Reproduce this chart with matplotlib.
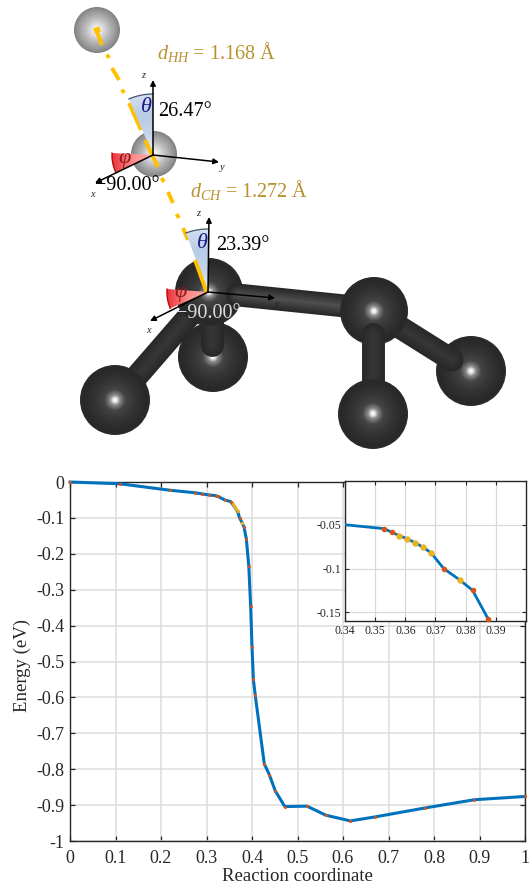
import numpy as np
import matplotlib
matplotlib.use("Agg")
import matplotlib.pyplot as plt
from matplotlib.patches import Circle, Polygon

plt.rcParams['font.family'] = ['Liberation Serif', 'DejaVu Serif']
plt.rcParams['mathtext.fontset'] = 'custom'
plt.rcParams['mathtext.rm'] = 'Liberation Serif'
plt.rcParams['mathtext.it'] = 'Liberation Serif:italic'
plt.rcParams['axes.unicode_minus'] = False

# energy profile
coord_main = [0, 0.11, 0.22, 0.275, 0.29, 0.305, 0.32, 0.325, 0.34, 0.353, 0.3555, 0.3685,
              0.3727, 0.378, 0.3823, 0.3875, 0.393, 0.397, 0.4, 0.403, 0.407, 0.427, 0.438,
              0.451, 0.472, 0.521, 0.562, 0.616, 0.67, 0.78, 0.889, 1]
energy_main = [0, -0.005, -0.023, -0.03, -0.033, -0.036, -0.038, -0.04, -0.05, -0.0545, -0.0585, -0.082,
               -0.1, -0.113, -0.125, -0.158, -0.235, -0.345, -0.46, -0.55, -0.593, -0.785, -0.815,
               -0.86, -0.904, -0.903, -0.928, -0.944, -0.933, -0.908, -0.885, -0.876]
coord_zoom = [0.34, 0.353, 0.3555, 0.358, 0.3606, 0.3632, 0.3658, 0.3685, 0.3727, 0.378, 0.3823, 0.3875, 0.393]
energy_zoom = [-0.05, -0.0545, -0.0585, -0.0625, -0.066, -0.0705, -0.0755, -0.082, -0.1, -0.113, -0.125, -0.158, -0.235]
coord_orange = [0.353, 0.3555, 0.3727, 0.3823, 0.3875]
energy_orange = [-0.0545, -0.0585, -0.1, -0.125, -0.158]
coord_yellow = [0.358, 0.3606, 0.3632, 0.3658, 0.3685, 0.378]
energy_yellow = [-0.0625, -0.066, -0.0705, -0.0755, -0.082, -0.113]

main_xticks = [0, 0.1, 0.2, 0.3, 0.4, 0.5, 0.6, 0.7, 0.8, 0.9, 1]
main_xlabels = ['0', '0.1', '0.2', '0.3', '0.4', '0.5', '0.6', '0.7', '0.8', '0.9', '1']
main_yticks = [0, -0.1, -0.2, -0.3, -0.4, -0.5, -0.6, -0.7, -0.8, -0.9, -1]
main_ylabels = ['0', '-0.1', '-0.2', '-0.3', '-0.4', '-0.5', '-0.6', '-0.7', '-0.8', '-0.9', '-1']
zoom_xticks = [0.34, 0.35, 0.36, 0.37, 0.38, 0.39]
zoom_xlabels = ['0.34', '0.35', '0.36', '0.37', '0.38', '0.39']
zoom_yticks = [-0.05, -0.1, -0.15]
zoom_ylabels = ['-0.05', '-0.1', '-0.15']

W, H = 530, 888
DARK = '#262626'


def sphere(ax, x, y, r, stops, vals, z):
    yy, xx = np.mgrid[-1:1:140j, -1:1:140j]
    im = ax.imshow(np.interp(np.hypot(xx, yy), stops, vals), cmap='gray', vmin=0, vmax=1,
                   extent=(x - r, x + r, y + r, y - r), aspect='auto', zorder=z, interpolation='bilinear')
    im.set_clip_path(Circle((x, y), r, transform=ax.transData))


def carbon(ax, x, y, r, z):
    sphere(ax, x, y, r, [0, 0.06, 0.14, 0.3, 0.55, 0.9, 1], [1, 0.92, 0.55, 0.27, 0.21, 0.16, 0.17], z)


def hydrogen(ax, x, y, r, z):
    sphere(ax, x, y, r, [0, 0.15, 0.5, 0.9, 1], [1, 0.93, 0.74, 0.56, 0.5], z)


def bond(ax, p, q, z, centre=0.21):
    xs, ys = [p[0], q[0]], [p[1], q[1]]
    for lw, g in zip(np.linspace(16.5, 2, 8), np.linspace(0.155, centre, 8)):
        ax.plot(xs, ys, color=(g, g, g), lw=lw, solid_capstyle='round', zorder=z)


def wedge_image(ax, pts, colors, horizontal, z):
    pts = np.array(pts)
    x0, y0 = pts.min(axis=0)
    x1, y1 = pts.max(axis=0)
    c = np.array([matplotlib.colors.to_rgb(k) for k in colors])
    t = np.linspace(0, 1, 60)
    row = np.stack([np.interp(t, np.linspace(0, 1, len(c)), c[:, i]) for i in range(3)], axis=1)
    img = row[None, :, :] if horizontal else row[:, None, :]
    im = ax.imshow(img, extent=(x0, x1, y1, y0), aspect='auto', zorder=z, interpolation='bilinear')
    im.set_clip_path(Polygon(pts, closed=True, transform=ax.transData))


def angle_marks(ax, org, theta_end, phi_start, phi_end, rad, z):
    # theta wedge between z axis and the bond direction
    a0 = np.arctan2(theta_end[0] - org[0], org[1] - theta_end[1])
    a = np.linspace(a0, 0, 20)
    arc = np.column_stack([org[0] + rad * np.sin(a), org[1] - rad * np.cos(a)])
    wedge_image(ax, [org] + arc.tolist(), ['#d5e0f0', '#b9cce6', '#c4d4ea', '#eef2f9'], False, z)
    ax.plot(arc[:, 0], arc[:, 1], color='#44546a', lw=0.9, zorder=z + 1)
    # phi wedge on the left, bulging away from the origin
    b0 = np.arctan2(phi_start[1] - org[1], phi_start[0] - org[0])
    b1 = np.arctan2(phi_end[1] - org[1], phi_end[0] - org[0])
    if b0 < 0:
        b0 += 2 * np.pi
    b = np.linspace(b0, b1, 20)
    r = np.hypot(phi_start[0] - org[0], phi_start[1] - org[1])
    arc2 = np.column_stack([org[0] + r * np.cos(b), org[1] + r * np.sin(b)])
    wedge_image(ax, [org] + arc2.tolist(), ['#e8343c', '#ff8a8a', '#ffb0b0'], True, z)
    ax.plot(arc2[:, 0], arc2[:, 1], color='#c00000', lw=0.9, zorder=z + 1)


def frame_arrows(ax, org, tips, labels, z):
    for tip, (lx, ly, s) in zip(tips, labels):
        ax.annotate('', xy=tip, xytext=org, zorder=z,
                    arrowprops=dict(arrowstyle='-|>', color='black', lw=1.1, mutation_scale=8,
                                    shrinkA=0, shrinkB=0))
        ax.text(lx, ly, s, fontsize=7.5, style='italic', color='#222222', ha='center', va='center', zorder=z)


fig = plt.figure(figsize=(W / 100, H / 100), dpi=100)

# molecule drawn in picture pixels
mol = fig.add_axes([0, 0, 1, 1])
mol.axis('off')

carbon(mol, 471, 371, 35, 2)
bond(mol, (374, 311), (452, 360), 3)
carbon(mol, 213, 357, 35, 2)
bond(mol, (212, 310), (212, 345), 3)
bond(mol, (210, 292), (125, 390), 3)
carbon(mol, 115, 400, 35, 4)
carbon(mol, 209, 292, 34, 5)
bond(mol, (238, 295), (345, 306), 6, centre=0.3)
carbon(mol, 374, 311, 34, 7)
bond(mol, (373, 334), (373, 395), 8)
carbon(mol, 373, 414, 35, 9)

hydrogen(mol, 97, 30, 23, 3)
hydrogen(mol, 154, 154, 23, 3)

# dash-dot bond guide
guide = [((97, 32), (102, 45)), ((107, 54.5), (109, 58)), ((112, 68), (119, 80)), ((122, 89.5), (124, 93)),
         ((129, 103), (141, 130)), ((161.5, 178), (164, 182)), ((168, 192), (173, 203)),
         ((176.5, 214), (179, 218)), ((183, 228), (188, 240))]
for p, q in guide:
    mol.plot([p[0], q[0]], [p[1], q[1]], color='#ffc000', lw=2.8, solid_capstyle='butt', zorder=10)
mol.plot([94, 100], [31, 29], color='#ffc000', lw=4, solid_capstyle='butt', zorder=10)

angle_marks(mol, (153, 155), (129, 99), (112, 153), (121, 170), 61, 11)
angle_marks(mol, (208, 292), (186, 233), (167, 289), (178, 305), 63, 11)

# parts of the guide that sit on top of the wedges
top_guide = [((145, 140), (158, 167)), ((195, 260), (207, 293))]
for p, q in top_guide:
    mol.plot([p[0], q[0]], [p[1], q[1]], color='#ffc000', lw=2.8, solid_capstyle='butt', zorder=12)

frame_arrows(mol, (153, 155), [(153, 80), (219, 162), (95, 183)],
             [(143, 76, 'z'), (222, 167, 'y'), (92, 194, 'x')], 13)
frame_arrows(mol, (208, 292), [(209, 217), (275, 298), (150, 321)],
             [(198, 213, 'z'), (277, 304, 'y'), (148, 330, 'x')], 13)

GOLD = '#b8922e'
mol.text(157, 52, r'$d_{HH}$ = 1.168 Å', color=GOLD, fontsize=14.5, va='center', zorder=14)
mol.text(190, 190, r'$d_{CH}$ = 1.272 Å', color=GOLD, fontsize=14.5, va='center', zorder=14)
mol.text(158, 112, '26.47°', color='black', fontsize=14.5, va='center', zorder=14)
mol.text(216, 245, '23.39°', color='black', fontsize=14.5, va='center', zorder=14)
mol.text(95, 186, '−90.00°', color='black', fontsize=14.5, va='center', zorder=14)
mol.text(176, 313, '−90.00°', color='#dcdcdc', fontsize=14.5, va='center', zorder=14)
mol.text(146, 107, r'$\theta$', color='#1c1a8a', fontsize=16, ha='center', va='center', zorder=14)
mol.text(202, 243, r'$\theta$', color='#1c1a8a', fontsize=16, ha='center', va='center', zorder=14)
mol.text(125, 160, r'$\varphi$', color='#8c1c1c', fontsize=16, ha='center', va='center', zorder=14)
mol.text(181, 294, r'$\varphi$', color='#8c1c1c', fontsize=16, ha='center', va='center', zorder=14)

mol.set_xlim(0, W)
mol.set_ylim(H, 0)

# main energy curve
ax = fig.add_axes([70 / W, (H - 841) / H, 455 / W, 359 / H])
ax.patch.set_alpha(0)
ax.plot(coord_main, energy_main, color='#0072bd', lw=2.2, zorder=3, clip_on=False)
ax.plot(coord_main, energy_main, ls='none', marker='o', ms=2.2, color='#d95319', mew=0, zorder=4, clip_on=False)
ax.plot(coord_yellow, energy_yellow, ls='none', marker='o', ms=2.4, color='#edb120', mew=0, zorder=4)
ax.set_xlim(0, 1)
ax.set_ylim(-1, 0)
ax.set_xticks(main_xticks, main_xlabels)
ax.set_yticks(main_yticks, main_ylabels)
ax.tick_params(direction='in', top=True, right=True, length=3.5, width=0.9, color=DARK,
               labelsize=13, labelcolor=DARK, pad=4)
ax.tick_params(axis='x', pad=6.5)
ax.grid(True, color='#dcdcdc', lw=1.1)
ax.set_axisbelow(True)
for s in ax.spines.values():
    s.set_color(DARK)
    s.set_linewidth(1)
ax.set_xlabel('Reaction coordinate', fontsize=13.5, color=DARK, labelpad=1)
ax.set_ylabel('Energy (eV)', fontsize=13.5, color=DARK, labelpad=4, y=0.49)

# inset around the shoulder
ins = fig.add_axes([345 / W, (H - 621) / H, 181 / W, 140 / H])
ins.plot(coord_zoom, energy_zoom, color='#0072bd', lw=2, zorder=3)
ins.plot(coord_orange, energy_orange, ls='none', marker='o', ms=4, color='#d95319', mew=0, zorder=4, clip_on=False)
ins.plot(coord_yellow, energy_yellow, ls='none', marker='o', ms=4.6, color='#edb120', mew=0, zorder=4)
ins.set_xlim(0.34, 0.4)
ins.set_ylim(-0.16, 0)
ins.set_xticks(zoom_xticks, zoom_xlabels)
ins.set_yticks(zoom_yticks, zoom_ylabels)
ins.tick_params(direction='in', top=True, right=True, length=3, width=0.8, color=DARK,
                labelsize=8.5, labelcolor=DARK, pad=3)
ins.grid(True, color='#d9d9d9', lw=0.9)
ins.set_axisbelow(True)
for s in ins.spines.values():
    s.set_color(DARK)
    s.set_linewidth(1)

fig.savefig('out.png', dpi=100)
